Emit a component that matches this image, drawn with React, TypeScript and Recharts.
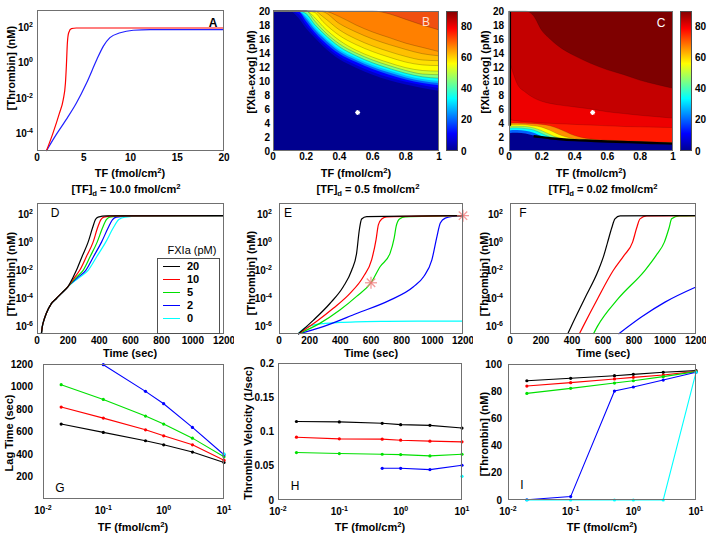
import React from 'react'
import {
  LineChart,
  ComposedChart,
  BarChart,
  Line,
  Area,
  Bar,
  Scatter,
  XAxis,
  YAxis,
} from 'recharts'

const FONT = '"Liberation Sans", Arial, Helvetica, sans-serif'

// ---- panel A : thrombin vs TF
const A_RED_TF = [1.0, 1.7, 2.4, 2.8, 3.04, 3.14, 3.25, 3.39, 3.68, 4.2, 20]
const A_RED = [1e-5, 1e-4, 1.4e-3, 8e-3, 7e-2, 0.65, 14, 51, 87, 95, 95]
const A_BLUE_TF = [1.0, 1.9, 3.1, 4.2, 5.3, 6.4, 7.1, 7.8, 8.9, 10.3, 12.1, 20]
const A_BLUE = [1e-5, 6.3e-5, 5.8e-4, 5.1e-3, 7.2e-2, 1.55, 8.9, 27, 51, 71, 77, 77]

// ---- panel B / C : contour boundaries ([fXIa] where each level is crossed)
const B_X = [0, 0.05, 0.1, 0.15, 0.2, 0.25, 0.3, 0.4, 0.5, 0.6, 0.7, 0.8, 0.9, 1.0]
const B_LEVELS = [
  [20, 20, 20, 19.1, 17.5, 16.2, 15.0, 13.1, 11.9, 10.9, 10.1, 9.5, 9.0, 8.6],
  [20, 20, 20, 19.6, 18.0, 16.6, 15.4, 13.5, 12.3, 11.3, 10.5, 9.9, 9.4, 9.0],
  [20, 20, 20, 20, 18.5, 17.0, 15.8, 13.9, 12.7, 11.7, 10.9, 10.2, 9.7, 9.4],
  [20, 20, 20, 20, 18.9, 17.4, 16.2, 14.2, 13.0, 12.0, 11.2, 10.5, 10.0, 9.7],
  [20, 20, 20, 20, 19.2, 17.7, 16.5, 14.5, 13.3, 12.3, 11.5, 10.8, 10.3, 10.0],
  [20, 20, 20, 20, 19.6, 18.1, 16.9, 14.9, 13.6, 12.6, 11.8, 11.1, 10.6, 10.4],
  [20, 20, 20, 20, 20, 18.6, 17.3, 15.3, 14.0, 13.0, 12.2, 11.5, 11.0, 10.9],
  [20, 20, 20, 20, 20, 19.1, 17.8, 15.8, 14.4, 13.4, 12.6, 11.9, 11.5, 11.4],
  [20, 20, 20, 20, 20, 19.8, 18.5, 16.5, 15.2, 14.2, 13.4, 12.7, 12.3, 12.2],
  [20, 20, 20, 20, 20, 20, 19.2, 17.3, 16.0, 15.0, 14.2, 13.5, 13.0, 12.9],
  [20, 20, 20, 20, 20, 20, 19.9, 18.2, 17.0, 16.0, 15.2, 14.5, 13.9, 13.6],
  [20, 20, 20, 20, 20, 20, 20, 19.2, 18.0, 17.0, 16.2, 15.4, 14.8, 14.2],
  [20, 20, 20, 20, 20, 20, 20, 20, 20, 20, 19.6, 18.8, 18.0, 17.3],
]
const B_FILLS = ['#0000C8', '#0000FF', '#0060FF', '#00C0FF', '#00FFFF', '#80FF80', '#D0FF30',
  '#FFFF00', '#FFE000', '#FFC000', '#FFA000', '#FF8000', '#F05010']

const C_X = [0, 0.02, 0.05, 0.1, 0.15, 0.2, 0.25, 0.3, 0.4, 0.5, 0.6, 0.7, 0.8, 0.9, 1.0]
const C_LEVELS = [
  [2.5, 2.6, 2.6, 2.5, 2.2, 1.95, 1.8, 1.7, 1.55, 1.45, 1.35, 1.28, 1.2, 1.12, 1.05],
  [2.9, 3.0, 3.0, 2.9, 2.6, 2.1, 1.85, 1.74, 1.58, 1.48, 1.38, 1.31, 1.23, 1.15, 1.08],
  [3.2, 3.3, 3.3, 3.2, 3.0, 2.5, 2.0, 1.78, 1.61, 1.51, 1.41, 1.34, 1.26, 1.18, 1.11],
  [3.45, 3.55, 3.55, 3.5, 3.3, 2.9, 2.35, 1.9, 1.65, 1.54, 1.44, 1.37, 1.29, 1.21, 1.14],
  [3.7, 3.8, 3.8, 3.75, 3.6, 3.4, 2.95, 2.4, 1.75, 1.6, 1.48, 1.4, 1.32, 1.24, 1.17],
  [3.9, 4.0, 4.0, 3.95, 3.9, 3.8, 3.6, 3.2, 2.2, 1.7, 1.54, 1.45, 1.36, 1.28, 1.2],
  [4.6, 4.4, 4.3, 4.2, 4.1, 4.0, 3.95, 3.9, 3.8, 3.7, 3.6, 3.5, 3.45, 3.4, 3.35],
  [13, 11.5, 9.6, 8.4, 7.6, 7.1, 6.8, 6.6, 6.3, 6.0, 5.6, 5.35, 5.1, 4.9, 4.7],
  [20, 20, 20, 20, 19.3, 17.2, 16.0, 15.0, 13.6, 12.5, 11.6, 10.9, 10.1, 9.5, 8.95],
]
const C_FILLS = ['#0060FF', '#00FFFF', '#80FF80', '#FFFF00', '#FF9000', '#FF1800', '#EE0000', '#C40000', '#7E0000']
const C_EDGE = [null, null, null, null, 2.1, 1.98, 1.82, 1.72, 1.56, 1.46, 1.36, 1.29, 1.21, 1.13, 1.06]
const C_STRIP = [{ x: 0.005, y: 3.6 }, { x: 0.005, y: 20 }]
const STAR_FXIA = [{ x: 0.51, y: 5.5 }]
const CB_TICKS = [0, 20, 40, 60, 80]
const CB_MAX = 90

// ---- panel D : [TF]d = 10
const D_K_T = [28, 34, 45, 60, 90, 124, 160, 199, 230, 253, 290, 328, 356, 375, 392, 446, 1200]
const D_R_T = [28, 34, 45, 60, 90, 124, 160, 199, 240, 274, 318, 360, 388, 410, 429, 499, 1200]
const D_G_T = [28, 34, 45, 60, 90, 124, 160, 199, 250, 296, 342, 386, 420, 445, 467, 553, 1200]
const D_B_T = [28, 34, 45, 60, 90, 124, 160, 199, 260, 313, 364, 414, 456, 485, 510, 617, 1200]
const D_C_T = [28, 34, 45, 60, 90, 124, 160, 199, 270, 328, 385, 441, 489, 525, 564, 681, 1200]
const D_VALS = [3e-7, 1e-6, 3e-6, 9e-6, 4e-5, 1e-4, 2.5e-4, 7e-4, 3e-3, 1e-2, 0.1, 1, 10, 40, 60, 74, 76]

// ---- panel E : [TF]d = 0.5
const E_K_T = [124, 223, 332, 419, 474, 506, 524, 539, 572, 1200]
const E_K = [3e-7, 2.8e-6, 4.4e-5, 6.8e-4, 1e-2, 0.16, 7.6, 44, 65, 76]
const E_R_T = [124, 244, 354, 463, 550, 604, 633, 648, 670, 703, 1200]
const E_R = [3e-7, 2.3e-6, 2e-5, 2.3e-4, 3.5e-3, 5.5e-2, 1.5, 17, 44, 62, 76]
const E_G_T = [124, 266, 397, 506, 600, 659, 724, 751, 764, 786, 823, 1200]
const E_G = [3e-7, 1.7e-6, 1.5e-5, 1.4e-4, 1.3e-3, 1.8e-2, 0.16, 1.9, 13, 44, 62, 76]
const E_B_T = [124, 288, 506, 724, 877, 943, 997, 1030, 1052, 1084, 1139, 1200]
const E_B = [3e-7, 1e-6, 8.5e-6, 7.6e-5, 6.8e-4, 3.5e-3, 5.5e-2, 2.5, 23, 51, 68, 76]
const E_C_T = [124, 160, 200, 300, 400, 500, 700, 900, 1200]
const E_C = [3e-7, 7e-7, 1.1e-6, 1.7e-6, 2e-6, 2.2e-6, 2.4e-6, 2.5e-6, 2.5e-6]
const E_STARS = [{ x: 600, y: 1.3e-3 }, { x: 1200, y: 76 }]

// ---- panel F : [TF]d = 0.02
const F_K_T = [372, 394, 482, 570, 605, 630, 656, 677, 710, 1200]
const F_R_T = [447, 471, 566, 667, 735, 791, 817, 839, 882, 1200]
const F_G_T = [538, 563, 699, 871, 942, 996, 1026, 1043, 1092, 1200]
const F_VALS = [3e-7, 1e-6, 1e-4, 1e-2, 0.11, 1, 10, 45, 72, 77]
const F_B_T = [700, 850, 1000, 1200]
const F_B = [3e-7, 5e-6, 5.5e-5, 6.5e-4]

// ---- panels G, H, I : vs TF (log)
const TF = [0.02, 0.1, 0.5, 1, 3, 10]
const G_K = [666, 592, 518, 482, 417, 325]
const G_R = [817, 719, 615, 562, 482, 345]
const G_G = [1016, 885, 737, 666, 541, 375]
const G_B = [null, 1194, 957, 847, 636, 393]
const G_C = [null, null, null, null, null, 402]
const H_K = [0.1146, 0.114, 0.112, 0.11, 0.109, 0.105]
const H_R = [0.0917, 0.0893, 0.0888, 0.0873, 0.0859, 0.0849]
const H_G = [0.0693, 0.0678, 0.0668, 0.0663, 0.0644, 0.0668]
const H_B = [null, null, 0.0463, 0.0463, 0.0444, 0.0507]
const H_C = [null, null, null, null, null, 0.0346]
const I_K = [87.7, 89.5, 91.4, 92.4, 93.9, 95.1]
const I_R = [83.8, 86.3, 89, 90.2, 91.9, 94.6]
const I_G = [78.4, 82.1, 86, 87.7, 90.7, 94.4]
const I_B = [0.2, 2.5, 80.1, 83.1, 88.2, 93.9]
const I_C = [0, 0, 0, 0, 0, 93.9]

const FXIA_LABELS = ['20', '10', '5', '2', '0']
const SERIES_COLORS = ['#000000', '#FF0000', '#00E000', '#0000FF', '#00FFFF']

const pts = (xs: number[], ys: number[]) => xs.map((x, i) => ({ x, y: ys[i] }))
const tfRows = (k: any[], r: any[], g: any[], b: any[], c: any[]) =>
  TF.map((x, i) => ({ x, k: k[i], r: r[i], g: g[i], b: b[i], c: c[i] }))
const contourRows = (xs: number[], levels: number[][]) =>
  xs.map((x, i) => {
    const row: any = { x }
    levels.forEach((lv, j) => { row['l' + j] = lv[i] })
    return row
  })

type Box = { x: number; y: number; w: number; h: number }
const BOX_A = { x: 37, y: 10, w: 187, h: 141 }
const BOX_B = { x: 273, y: 11, w: 166, h: 140 }
const BOX_BCB = { x: 446, y: 11, w: 12, h: 140 }
const BOX_C = { x: 509, y: 11, w: 164, h: 140 }
const BOX_CCB = { x: 680, y: 11, w: 12, h: 140 }
const BOX_D = { x: 37, y: 203, w: 187, h: 131 }
const BOX_E = { x: 279, y: 203, w: 184, h: 131 }
const BOX_F = { x: 510, y: 203, w: 186, h: 131 }
const BOX_G = { x: 43, y: 364, w: 181, h: 135 }
const BOX_H = { x: 278, y: 363, w: 184, h: 137 }
const BOX_I = { x: 508, y: 364, w: 188, h: 136 }

const ML = 50
const MR = 10
const MT = 8
const MB = 30
const MARGIN = { top: MT, right: MR, left: 0, bottom: 0 }
const TICK = { fontSize: 10, fontWeight: 700, fill: '#000', fontFamily: FONT }

const PowTickY = (props: any) => {
  const { x, y, payload } = props
  const e = Math.round(Math.log10(payload.value))
  return (
    <text x={x} y={y} dy="0.36em" textAnchor="end" style={TICK}>
      10<tspan dy={-4} fontSize={7}>{e}</tspan>
    </text>
  )
}

const PowTickX = (props: any) => {
  const { x, y, payload } = props
  const e = Math.round(Math.log10(payload.value))
  return (
    <text x={x} y={y} dy="0.71em" textAnchor="middle" style={TICK}>
      10<tspan dy={-4} fontSize={7}>{e}</tspan>
    </text>
  )
}

const starShape = (color: string, r: number, sw: number) => (p: any) => {
  const { cx, cy } = p
  const d = r * 0.7
  return (
    <g stroke={color} strokeWidth={sw}>
      <line x1={cx - r} y1={cy} x2={cx + r} y2={cy} />
      <line x1={cx} y1={cy - r} x2={cx} y2={cy + r} />
      <line x1={cx - d} y1={cy - d} x2={cx + d} y2={cy + d} />
      <line x1={cx - d} y1={cy + d} x2={cx + d} y2={cy - d} />
    </g>
  )
}

const Panel: React.FC<{ box: Box; bg?: string; children: (w: number, h: number) => React.ReactNode }> = ({ box, bg, children }) => (
  <>
    {bg && (
      <div style={{ position: 'absolute', left: box.x, top: box.y, width: box.w, height: box.h, background: bg }} />
    )}
    <div style={{ position: 'absolute', left: box.x - ML, top: box.y - MT }}>
      {children(box.w + ML + MR, box.h + MT + MB)}
    </div>
    <div
      style={{
        position: 'absolute', left: box.x, top: box.y, width: box.w, height: box.h,
        border: '1px solid #707070', boxSizing: 'border-box', pointerEvents: 'none',
      }}
    />
  </>
)

const Txt: React.FC<{ x: number; y: number; rot?: boolean; size?: number; weight?: number; color?: string; children: React.ReactNode }> = ({
  x, y, rot, size = 11, weight = 700, color = '#000', children,
}) => (
  <div
    style={{
      position: 'absolute', left: x, top: y,
      transform: `translate(-50%, -50%)${rot ? ' rotate(-90deg)' : ''}`,
      fontSize: size, fontWeight: weight, color, whiteSpace: 'nowrap', lineHeight: 1, fontFamily: FONT,
    }}
  >
    {children}
  </div>
)

const Sup: React.FC<{ children: React.ReactNode }> = ({ children }) => (
  <span style={{ fontSize: '0.7em', position: 'relative', top: '-0.5em' }}>{children}</span>
)
const Sub: React.FC<{ children: React.ReactNode }> = ({ children }) => (
  <span style={{ fontSize: '0.7em', position: 'relative', top: '0.35em' }}>{children}</span>
)

const xNum = (domain: number[], ticks: number[], margin = 3) => ({
  type: 'number' as const, dataKey: 'x', domain, ticks, interval: 0, tick: TICK,
  tickLine: false, axisLine: false, tickSize: 0, tickMargin: margin, height: MB,
})
const xLog = () => ({
  type: 'number' as const, dataKey: 'x', scale: 'log' as const, domain: [0.01, 10], ticks: [0.01, 0.1, 1, 10],
  interval: 0, tick: <PowTickX />, tickLine: false, axisLine: false, tickSize: 0, tickMargin: 8, height: MB,
})
const yNum = (domain: number[], ticks: number[], margin = 5) => ({
  type: 'number' as const, domain, ticks, interval: 0, tick: TICK,
  tickLine: false, axisLine: false, tickSize: 0, tickMargin: margin, width: ML,
})
const yLog = (domain: number[], ticks: number[], margin = 5) => ({
  type: 'number' as const, scale: 'log' as const, domain, ticks, interval: 0, tick: <PowTickY />,
  tickLine: false, axisLine: false, tickSize: 0, tickMargin: margin, width: ML,
})

const curve = (data: any[], color: string, key = 'y') => (
  <Line
    key={color + data.length + data[0].x}
    data={data}
    dataKey={key}
    type="monotone"
    stroke={color}
    strokeWidth={1.2}
    dot={false}
    activeDot={false}
    isAnimationActive={false}
  />
)

const Colorbar: React.FC<{ box: Box }> = ({ box }) => (
  <>
    <div style={{ position: 'absolute', left: box.x, top: box.y - MT }}>
      <BarChart
        width={box.w + 24}
        height={box.h + MT + 10}
        data={[{ n: 'cb', v: CB_MAX }]}
        margin={{ top: MT, right: 0, left: 0, bottom: 10 }}
        barCategoryGap={0}
      >
        <XAxis dataKey="n" hide />
        <YAxis
          orientation="right"
          type="number"
          domain={[0, CB_MAX]}
          ticks={CB_TICKS}
          interval={0}
          tick={TICK}
          tickLine={false}
          axisLine={false}
          tickSize={0}
          tickMargin={3}
          width={24}
        />
        <Bar dataKey="v" fill="url(#jet)" isAnimationActive={false} />
      </BarChart>
    </div>
    <div
      style={{
        position: 'absolute', left: box.x, top: box.y, width: box.w, height: box.h,
        border: '1px solid #505050', boxSizing: 'border-box',
      }}
    />
  </>
)

const LagLines = (keys: string[]) =>
  keys.map((k, i) => (
    <Line
      key={k}
      dataKey={k}
      type="linear"
      stroke={SERIES_COLORS[i]}
      strokeWidth={1.1}
      dot={{ r: 1.6, fill: SERIES_COLORS[i], stroke: 'none' }}
      activeDot={false}
      isAnimationActive={false}
    />
  ))

export default function App() {
  const rowsB = contourRows(B_X, B_LEVELS)
  const rowsC = contourRows(C_X, C_LEVELS).map((r, i) => ({ ...r, edge: C_EDGE[i] }))
  const keys = ['k', 'r', 'g', 'b', 'c']

  return (
    <div style={{ position: 'absolute', left: 0, top: 0, width: 714, height: 538, background: '#fff', fontFamily: FONT, overflow: 'hidden' }}>
      <svg width={0} height={0} style={{ position: 'absolute' }}>
        <defs>
          <linearGradient id="jet" x1="0" y1="1" x2="0" y2="0">
            <stop offset="0" stopColor="#00008F" />
            <stop offset="0.125" stopColor="#0000FF" />
            <stop offset="0.375" stopColor="#00FFFF" />
            <stop offset="0.625" stopColor="#FFFF00" />
            <stop offset="0.875" stopColor="#FF0000" />
            <stop offset="1" stopColor="#800000" />
          </linearGradient>
        </defs>
      </svg>

      {/* A */}
      <Panel box={BOX_A}>
        {(w, h) => (
          <LineChart width={w} height={h} margin={MARGIN}>
            <XAxis {...xNum([0, 20], [0, 5, 10, 15, 20], 2.5)} />
            <YAxis {...yLog([1e-5, 1e3], [1e-4, 1e-2, 1, 100], 4)} />
            {curve(pts(A_BLUE_TF, A_BLUE), '#2020FF')}
            {curve(pts(A_RED_TF, A_RED), '#FF0000')}
          </LineChart>
        )}
      </Panel>

      {/* B */}
      <Panel box={BOX_B} bg="#00008F">
        {(w, h) => (
          <ComposedChart width={w} height={h} margin={MARGIN} data={rowsB}>
            <XAxis {...xNum([0, 1], [0, 0.2, 0.4, 0.6, 0.8, 1], 2)} />
            <YAxis {...yNum([0, 20], [0, 2, 4, 6, 8, 10, 12, 14, 16, 18, 20], 3)} />
            {B_FILLS.map((f, j) => (
              <Area
                key={'b' + j}
                dataKey={'l' + j}
                type="monotone"
                baseValue={20}
                fill={f}
                fillOpacity={1}
                stroke={j >= 5 ? 'rgba(0,0,0,0.35)' : 'none'}
                strokeWidth={0.6}
                dot={false}
                activeDot={false}
                isAnimationActive={false}
              />
            ))}
            <Scatter data={STAR_FXIA} dataKey="y" shape={starShape('#FFFFFF', 2.5, 1.2)} isAnimationActive={false} />
          </ComposedChart>
        )}
      </Panel>
      <Colorbar box={BOX_BCB} />

      {/* C */}
      <Panel box={BOX_C} bg="#00008F">
        {(w, h) => (
          <ComposedChart width={w} height={h} margin={MARGIN} data={rowsC}>
            <XAxis {...xNum([0, 1], [0, 0.2, 0.4, 0.6, 0.8, 1], 2)} />
            <YAxis {...yNum([0, 20], [0, 2, 4, 6, 8, 10, 12, 14, 16, 18, 20], 5)} />
            {C_FILLS.map((f, j) => (
              <Area
                key={'c' + j}
                dataKey={'l' + j}
                type="monotone"
                baseValue={20}
                fill={f}
                fillOpacity={1}
                stroke={j >= 2 ? 'rgba(0,0,0,0.25)' : 'none'}
                strokeWidth={0.6}
                dot={false}
                activeDot={false}
                isAnimationActive={false}
              />
            ))}
            <Line dataKey="edge" type="monotone" stroke="#000" strokeWidth={2.4} dot={false} activeDot={false} isAnimationActive={false} />
            <Line data={C_STRIP} dataKey="y" type="linear" stroke="#000" strokeWidth={2.5} dot={false} activeDot={false} isAnimationActive={false} />
            <Scatter data={STAR_FXIA} dataKey="y" shape={starShape('#FFFFFF', 2.5, 1.2)} isAnimationActive={false} />
          </ComposedChart>
        )}
      </Panel>
      <Colorbar box={BOX_CCB} />

      {/* D */}
      <Panel box={BOX_D}>
        {(w, h) => (
          <LineChart width={w} height={h} margin={MARGIN}>
            <XAxis {...xNum([0, 1200], [0, 200, 400, 600, 800, 1000, 1200], 3)} />
            <YAxis {...yLog([3e-7, 600], [1e-6, 1e-4, 1e-2, 1, 100], 4)} />
            {curve(pts(D_C_T, D_VALS), SERIES_COLORS[4])}
            {curve(pts(D_B_T, D_VALS), SERIES_COLORS[3])}
            {curve(pts(D_G_T, D_VALS), SERIES_COLORS[2])}
            {curve(pts(D_R_T, D_VALS), SERIES_COLORS[1])}
            {curve(pts(D_K_T, D_VALS), SERIES_COLORS[0])}
          </LineChart>
        )}
      </Panel>

      {/* E */}
      <Panel box={BOX_E}>
        {(w, h) => (
          <ComposedChart width={w} height={h} margin={MARGIN}>
            <XAxis {...xNum([0, 1200], [0, 200, 400, 600, 800, 1000, 1200], 3)} />
            <YAxis {...yLog([3e-7, 600], [1e-6, 1e-4, 1e-2, 1, 100], 7)} />
            {curve(pts(E_C_T, E_C), SERIES_COLORS[4])}
            {curve(pts(E_B_T, E_B), SERIES_COLORS[3])}
            {curve(pts(E_G_T, E_G), SERIES_COLORS[2])}
            {curve(pts(E_R_T, E_R), SERIES_COLORS[1])}
            {curve(pts(E_K_T, E_K), SERIES_COLORS[0])}
            <Scatter data={E_STARS} dataKey="y" shape={starShape('rgba(240,120,120,0.75)', 6, 1.3)} isAnimationActive={false} />
          </ComposedChart>
        )}
      </Panel>

      {/* F */}
      <Panel box={BOX_F}>
        {(w, h) => (
          <LineChart width={w} height={h} margin={MARGIN}>
            <XAxis {...xNum([0, 1200], [0, 200, 400, 600, 800, 1000, 1200], 3)} />
            <YAxis {...yLog([3e-7, 600], [1e-6, 1e-4, 1e-2, 1, 100], 7)} />
            {curve(pts(F_B_T, F_B), SERIES_COLORS[3])}
            {curve(pts(F_G_T, F_VALS), SERIES_COLORS[2])}
            {curve(pts(F_R_T, F_VALS), SERIES_COLORS[1])}
            {curve(pts(F_K_T, F_VALS), SERIES_COLORS[0])}
          </LineChart>
        )}
      </Panel>

      {/* G */}
      <Panel box={BOX_G}>
        {(w, h) => (
          <LineChart width={w} height={h} margin={MARGIN} data={tfRows(G_K, G_R, G_G, G_B, G_C)}>
            <XAxis {...xLog()} />
            <YAxis {...yNum([0, 1200], [200, 400, 600, 800, 1000, 1200], 10)} />
            {LagLines(keys)}
          </LineChart>
        )}
      </Panel>

      {/* H */}
      <Panel box={BOX_H}>
        {(w, h) => (
          <LineChart width={w} height={h} margin={MARGIN} data={tfRows(H_K, H_R, H_G, H_B, H_C)}>
            <XAxis {...xLog()} />
            <YAxis {...yNum([0, 0.2], [0, 0.05, 0.1, 0.15, 0.2], 4)} />
            {LagLines(keys)}
          </LineChart>
        )}
      </Panel>

      {/* I */}
      <Panel box={BOX_I}>
        {(w, h) => (
          <LineChart width={w} height={h} margin={MARGIN} data={tfRows(I_K, I_R, I_G, I_B, I_C)}>
            <XAxis {...xLog()} />
            <YAxis {...yNum([0, 100], [0, 20, 40, 60, 80, 100], 6)} />
            {LagLines(keys)}
          </LineChart>
        )}
      </Panel>

      {/* legend in D */}
      <Txt x={192} y={250} weight={400}>FXIa (pM)</Txt>
      <div
        style={{
          position: 'absolute', left: 157, top: 258, width: 63, height: 76,
          border: '1px solid #505050', boxSizing: 'border-box', background: '#fff',
        }}
      >
        {FXIA_LABELS.map((lab, i) => (
          <div key={lab} style={{ position: 'absolute', left: 5, top: 8 + i * 13, height: 0 }}>
            <div style={{ position: 'absolute', left: 0, top: -1, width: 17, height: 0, borderTop: `1.5px solid ${SERIES_COLORS[i]}` }} />
            <div style={{ position: 'absolute', left: 24, top: -6, fontSize: 11, fontWeight: 700, lineHeight: 1, fontFamily: FONT }}>{lab}</div>
          </div>
        ))}
      </div>

      {/* panel letters */}
      <Txt x={213} y={23} size={12}>A</Txt>
      <Txt x={426} y={22} size={12} weight={400} color="#FFE0D0">B</Txt>
      <Txt x={661} y={23} size={12} weight={400} color="#FFFFFF">C</Txt>
      <Txt x={55} y={213} size={12} weight={400}>D</Txt>
      <Txt x={288} y={213} size={12} weight={400}>E</Txt>
      <Txt x={523} y={213} size={12} weight={400}>F</Txt>
      <Txt x={60} y={488} size={12} weight={400}>G</Txt>
      <Txt x={295} y={486} size={12} weight={400}>H</Txt>
      <Txt x={522} y={485} size={12} weight={400}>I</Txt>

      {/* axis titles */}
      <Txt x={11} y={68} rot>[Thrombin] (nM)</Txt>
      <Txt x={251} y={72} rot>[fXIa-exog] (pM)</Txt>
      <Txt x={485} y={72} rot>[fXIa-exog] (pM)</Txt>
      <Txt x={11} y={274} rot>[Thrombin] (nM)</Txt>
      <Txt x={251} y={273} rot>[Thrombin] (nM)</Txt>
      <Txt x={484} y={274} rot>[Thrombin] (nM)</Txt>
      <Txt x={9} y={433} rot>Lag Time (sec)</Txt>
      <Txt x={248} y={433} rot>Thrombin Velocity (1/sec)</Txt>
      <Txt x={484} y={434} rot>[Thrombin] (nM)</Txt>

      <Txt x={130} y={173}>TF (fmol/cm<Sup>2</Sup>)</Txt>
      <Txt x={356} y={173}>TF (fmol/cm<Sup>2</Sup>)</Txt>
      <Txt x={591} y={173}>TF (fmol/cm<Sup>2</Sup>)</Txt>

      <Txt x={126} y={189}>[TF]<Sub>d</Sub> = 10.0 fmol/cm<Sup>2</Sup></Txt>
      <Txt x={368} y={189}>[TF]<Sub>d</Sub> = 0.5 fmol/cm<Sup>2</Sup></Txt>
      <Txt x={603} y={189}>[TF]<Sub>d</Sub> = 0.02 fmol/cm<Sup>2</Sup></Txt>

      <Txt x={130} y={353}>Time (sec)</Txt>
      <Txt x={371} y={353}>Time (sec)</Txt>
      <Txt x={603} y={353}>Time (sec)</Txt>

      <Txt x={133} y={527}>TF (fmol/cm<Sup>2</Sup>)</Txt>
      <Txt x={370} y={527}>TF (fmol/cm<Sup>2</Sup>)</Txt>
      <Txt x={602} y={527}>TF (fmol/cm<Sup>2</Sup>)</Txt>
    </div>
  )
}
